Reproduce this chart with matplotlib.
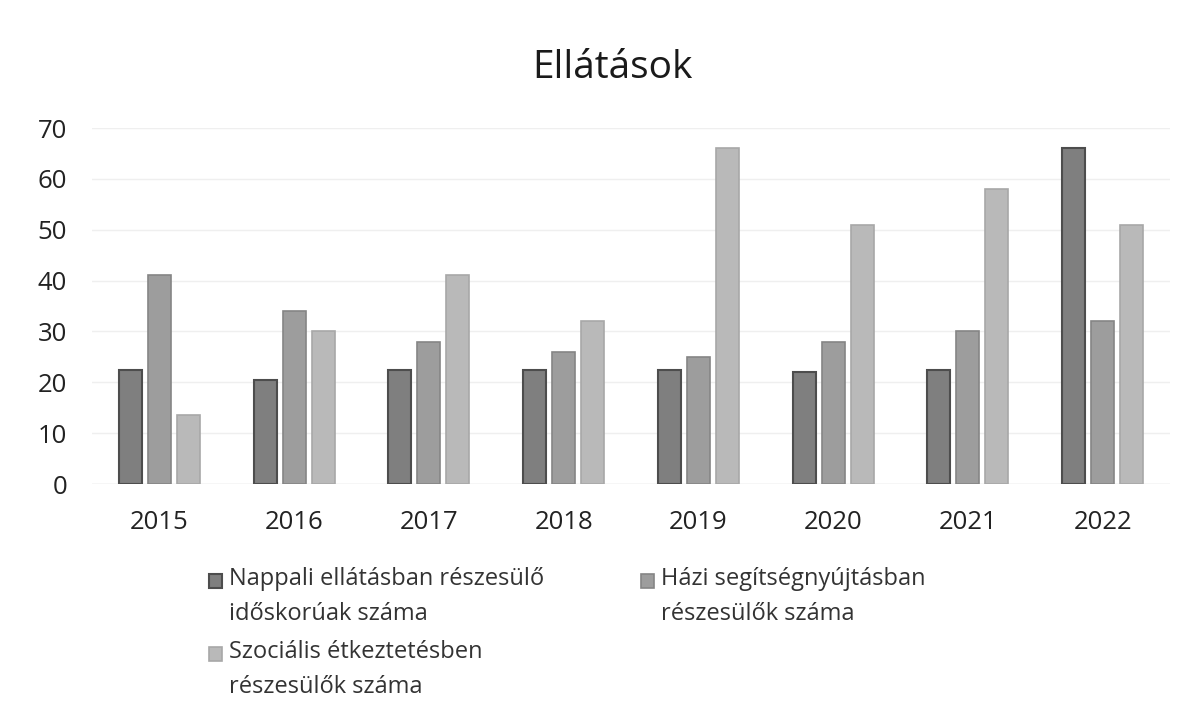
import matplotlib
matplotlib.use("Agg")
import matplotlib.pyplot as plt
import numpy as np
from matplotlib.container import BarContainer
from matplotlib.legend_handler import HandlerPatch, update_from_first_child
from matplotlib.patches import Rectangle

years = ["2015", "2016", "2017", "2018", "2019", "2020", "2021", "2022"]
nappali = [22.5, 20.5, 22.5, 22.5, 22.5, 22, 22.5, 66]
hazi = [41, 34, 28, 26, 25, 28, 30, 32]
szocialis = [13.5, 30, 41, 32, 66, 51, 58, 51]
labels = ["Nappali ellátásban részesülő\nidőskorúak száma",
          "Házi segítségnyújtásban\nrészesülők száma",
          "Szociális étkeztetésben\nrészesülők száma"]
yticks = [0, 10, 20, 30, 40, 50, 60, 70]

plt.rcParams['font.family'] = ['Open Sans', 'DejaVu Sans']

fig = plt.figure(figsize=(11.95, 7.01), dpi=100)
ax = fig.add_axes([92/1195, 1-484/701, 1078/1195, 356/701])

x = np.arange(len(years))
w = 0.17
off = 0.215
b1 = ax.bar(x - off, nappali, w, color="#7f7f7f", edgecolor="#4d4d4d", linewidth=1.5, zorder=3)
b2 = ax.bar(x, hazi, w, color="#9d9d9d", edgecolor="#858585", linewidth=1.2, zorder=3)
b3 = ax.bar(x + off, szocialis, w, color="#b9b9b9", edgecolor="#a8a8a8", linewidth=1.2, zorder=3)

ax.set_xlim(-0.5, len(years) - 0.5)
ax.set_ylim(0, 70)
ax.set_yticks(yticks)
ax.set_yticklabels([str(t) for t in yticks])
ax.set_xticks(x)
ax.set_xticklabels(years)
ax.yaxis.grid(True, color="#efefef", linewidth=1, zorder=0)
ax.tick_params(axis='both', length=0, labelsize=18.5, colors="#222222")
ax.tick_params(axis='x', pad=19)
ax.tick_params(axis='y', pad=18)
for s in ax.spines.values():
    s.set_visible(False)
ax.axhline(0, color="#e4e4e4", linewidth=1, zorder=2)

fig.text(612/1195, 1-78/701, "Ellátások", ha="center", va="baseline", fontsize=28, color="#1a1a1a")


def top_square(legend, orig_handle, xdescent, ydescent, width, height, fontsize):
    return Rectangle((-xdescent, -ydescent + 0.68 * fontsize), width, height)


hmap = {BarContainer: HandlerPatch(patch_func=top_square, update_func=update_from_first_child)}

handles = [b1, b3, b2]
hl = [labels[0], labels[2], labels[1]]
leg = fig.legend(handles, hl, ncol=2, loc="upper left",
                 bbox_to_anchor=(209/1195, 1-567/701), frameon=False,
                 borderpad=0, borderaxespad=0, handler_map=hmap,
                 fontsize=17, handlelength=0.55, handleheight=0.55,
                 handletextpad=0.3, columnspacing=4.1, labelspacing=0.6,
                 labelcolor="#333333")
for t in leg.get_texts():
    t.set_linespacing(1.6)

fig.savefig("out.png", dpi=100, facecolor="white")
